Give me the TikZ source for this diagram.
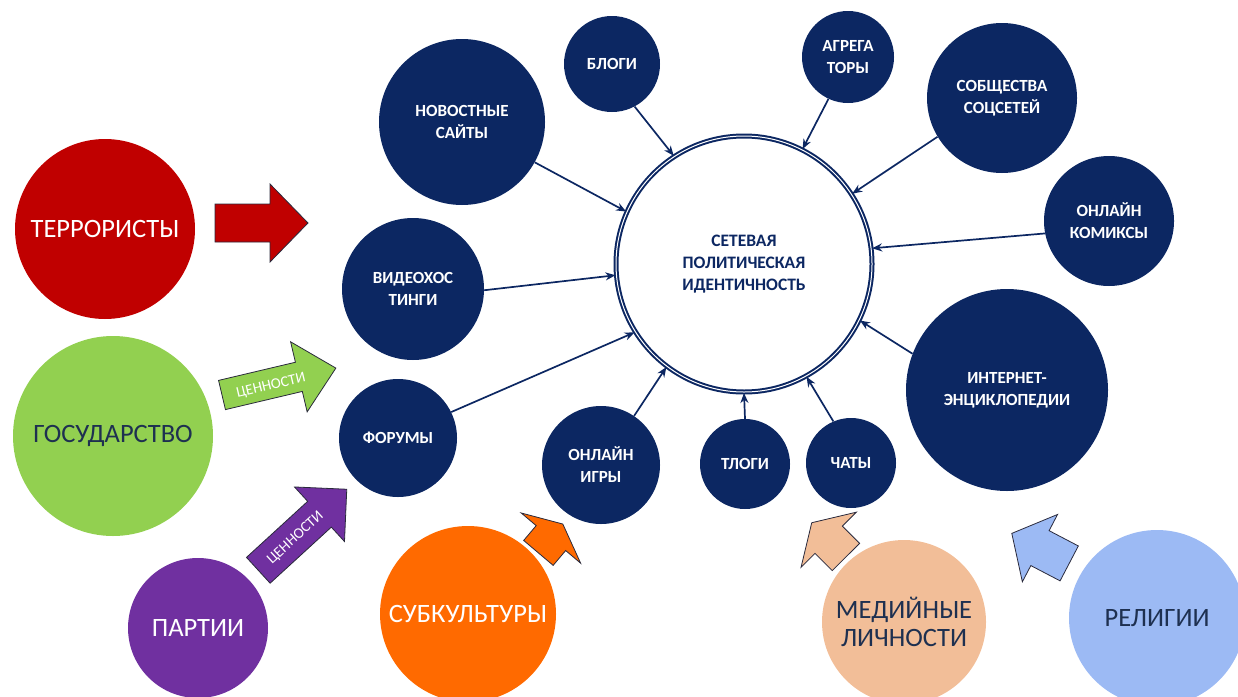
\documentclass[tikz,border=0pt]{standalone}
\usepackage{fontspec}
\setmainfont{Carlito}
\usetikzlibrary{arrows.meta}
\definecolor{navy}{HTML}{0C2762}
\definecolor{redf}{HTML}{C00000}
\definecolor{greenf}{HTML}{92D050}
\definecolor{purplef}{HTML}{7030A0}
\definecolor{orangef}{HTML}{FF6A00}
\definecolor{peachf}{HTML}{F2BE98}
\definecolor{bluef}{HTML}{9CBAF4}
\definecolor{darktext}{HTML}{1E3050}
\definecolor{arrline}{HTML}{2A2A3C}
\newcommand\blockarr[8]{%
  \begin{scope}[shift={(#1,#2)},rotate=#3]
    \path[barr,fill=#8] (0,-#5) -- ({#4-#7},-#5) -- ({#4-#7},-#6) -- (#4,0)
      -- ({#4-#7},#6) -- ({#4-#7},#5) -- (0,#5) -- cycle;
  \end{scope}}
\begin{document}
\begin{tikzpicture}[x=1pt,y=-1pt,
  nv/.style={circle,fill=navy,text=white,font=\bfseries\fontsize{17}{22}\selectfont,align=center,inner sep=0pt},
  big/.style={circle,inner sep=0pt,align=center,font=\fontsize{26.5}{28}\selectfont},
  conn/.style={draw=navy,line width=1.7pt,-{Stealth[length=10pt,width=8pt]}},
  barr/.style={draw=arrline,line width=0.8pt,line join=miter},
  valtext/.style={text=white,font=\fontsize{15}{15}\selectfont,inner sep=0pt}]
\useasboundingbox (0,0) rectangle (1238,696);

% centre
\node[circle,draw=navy,line width=2pt,double=white,double distance=1pt,minimum size=256,
      text=navy,font=\bfseries\fontsize{17.5}{22}\selectfont,align=center,inner sep=0pt]
      (c) at (744,264) {СЕТЕВАЯ\\ПОЛИТИЧЕСКАЯ\\ИДЕНТИЧНОСТЬ};

% navy circles
\node[nv,minimum size=166] (news) at (462,122) {НОВОСТНЫЕ\\САЙТЫ};
\node[nv,minimum size=96] (blog) at (612,64) {БЛОГИ};
\node[nv,minimum size=92] (agr) at (848,57) {АГРЕГА\\ТОРЫ};
\node[nv,minimum size=150] (soc) at (1002,98) {СОБЩЕСТВА\\СОЦСЕТЕЙ};
\node[nv,minimum size=130] (com) at (1109,221) {ОНЛАЙН\\КОМИКСЫ};
\node[nv,minimum size=202] (enc) at (1007,390) {ИНТЕРНЕТ-\\ЭНЦИКЛОПЕДИИ};
\node[nv,minimum size=142] (vid) at (413,289) {ВИДЕОХОС\\ТИНГИ};
\node[nv,minimum size=118] (for) at (398,438) {ФОРУМЫ};
\node[nv,minimum size=118] (game) at (601,465) {ОНЛАЙН\\ИГРЫ};
\node[nv,minimum size=90] (tlog) at (745,464) {ТЛОГИ};
\node[nv,minimum size=90] (chat) at (851,463) {ЧАТЫ};

% connectors
\draw[conn] (blog.-62) -- (c.123.6);
\draw[conn] (agr.-115) -- (c.63.4);
\draw[conn] (soc.-149.5) -- (c.33.8);
\draw[conn] (com.-169) -- (c.7.1);
\draw[conn] (enc.159) -- (c.-26.6);
\draw[conn] (chat.113.6) -- (c.-61.6);
\draw[conn] (tlog.90) -- (c.-90);
\draw[conn] (game.56.6) -- (c.-127.3);
\draw[conn] (for.26.2) -- (c.-148.1);
\draw[conn] (vid.-1.5) -- (c.-175.3);
\draw[conn] (news.-29.5) -- (c.156.2);

% coloured circles
\node[big,fill=redf,text=white,minimum size=180] (terr) at (105,229) {ТЕРРОРИСТЫ};
\node[big,fill=greenf,text=darktext,minimum size=200] (gos) at (113,436) {ГОСУДАРСТВО};
\node[big,fill=purplef,text=white,minimum size=140] (part) at (198,628) {ПАРТИИ};
\node[big,fill=orangef,text=white,minimum size=176] (sub) at (468,614) {СУБКУЛЬТУРЫ};
\node[big,fill=peachf,text=darktext,minimum size=164] (med) at (904,622) {МЕДИЙНЫЕ\\ЛИЧНОСТИ};
\node[big,fill=bluef,text=darktext,minimum size=176] (rel) at (1157,618) {РЕЛИГИИ};

% block arrows
\blockarr{215}{223}{0}{93}{19}{39}{38}{redf}
\blockarr{222}{395}{13.3}{117}{15}{36}{38}{greenf}
\blockarr{258.3}{570.3}{42.5}{120}{17.5}{37}{37}{purplef}
\blockarr{538.4}{552.9}{49.8}{37.8}{19.3}{38.9}{18.4}{orangef}
\blockarr{845.9}{557}{134.9}{48.4}{19.3}{39}{24}{peachf}
\blockarr{1069.2}{563.4}{152.4}{64.8}{19.7}{38}{31.8}{bluef}

\node[valtext,rotate=13.3] (val1) at (271,386) {ЦЕННОСТИ};
\node[valtext,rotate=42.5] (val2) at (295.5,538) {ЦЕННОСТИ};
\end{tikzpicture}
\end{document}
